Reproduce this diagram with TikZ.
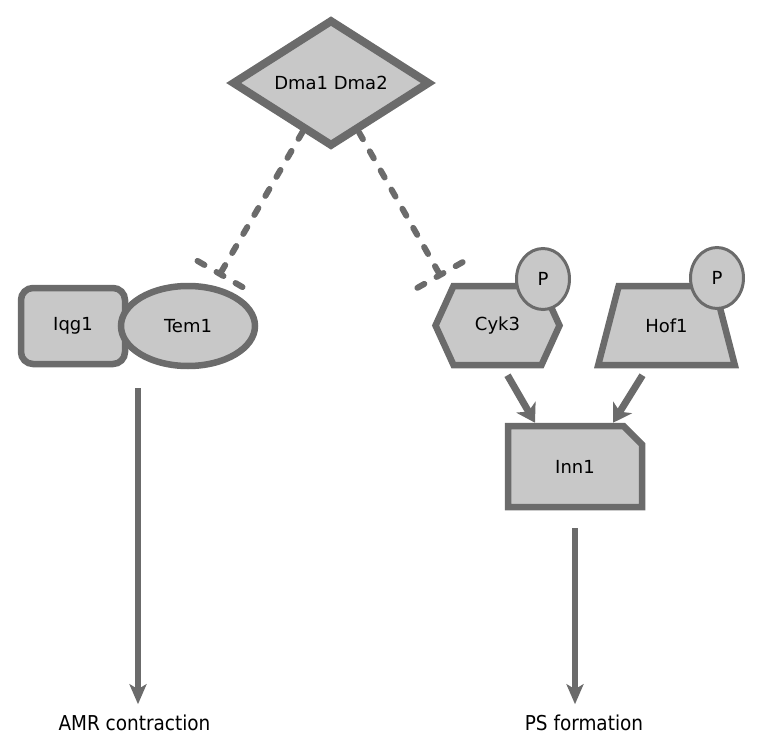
\documentclass[tikz,border=0pt]{standalone}
\usepackage{fontspec}
\setmainfont{DejaVu Sans}
\newfontfamily\condfont{DejaVu Sans Condensed}
\usepackage{tikz}
\usetikzlibrary{arrows.meta,calc,fit,shapes.geometric,shapes.misc,shapes.symbols}
\definecolor{edgegray}{HTML}{6B6B6B}
\definecolor{fillgray}{HTML}{C8C8C8}
\tikzset{
  entity/.style={draw=edgegray, fill=fillgray, line width=6.5pt, align=center,
    inner sep=0pt, font=\fontsize{18pt}{22pt}\selectfont},
  dmabox/.style={entity, diamond, line width=8pt, minimum width=198pt, minimum height=120pt},
  complexbox/.style={entity, rounded corners=12pt, minimum width=104pt, minimum height=76pt},
  ellipsebox/.style={entity, ellipse, minimum width=134pt, minimum height=80pt},
  hexbox/.style={entity, signal, signal to=east and west, signal pointer angle=131,
    minimum width=124pt, minimum height=79pt},
  trapbox/.style={entity, trapezium, trapezium left angle=57, trapezium right angle=57,
    trapezium stretches=true, minimum width=137pt, minimum height=79pt},
  cutbox/.style={entity, chamfered rectangle, chamfered rectangle corners=north east,
    chamfered rectangle xsep=12pt, chamfered rectangle ysep=12pt,
    minimum width=134pt, minimum height=81pt},
  pbox/.style={entity, ellipse, line width=3pt, minimum width=53pt, minimum height=61pt},
  outcome/.style={inner sep=0pt, font=\condfont\fontsize{20.5pt}{24pt}\selectfont},
  inhib/.style={draw=edgegray, line width=6pt, line cap=round, dash pattern=on 8pt off 14pt},
  act/.style={-{Stealth[length=18pt, width=22pt, inset=5pt]}, line width=7pt, draw=edgegray},
  outarr/.style={-{Stealth[length=20pt, width=17pt, inset=5pt]}, line width=5.5pt,
    draw=edgegray, shorten >=10pt}
}
\begin{document}
\begin{tikzpicture}[x=1pt,y=-1pt]
  \useasboundingbox (0,0) rectangle (766,749);
  \node[dmabox] (dma) at (331,83) {Dma1 Dma2};
  \node[complexbox] (iqg1) at (73,326) {Iqg1};
  \node[ellipsebox] (tem1) at (188,326) {Tem1};
  \node[fit=(iqg1)(tem1), inner sep=0pt] (cplx) {};
  \node[hexbox] (cyk3) at (497.5,325.5) {Cyk3};
  \node[pbox] (cykp) at (543,279) {P};
  \node[trapbox] (hof1) at (666.5,325.5) {Hof1};
  \node[pbox] (hofp) at (717,278) {P};
  \node[cutbox] (inn1) at (575,466.5) {Inn1};
  \node[outcome, anchor=base] (amr) at (134.5,730) {AMR contraction};
  \node[outcome, anchor=base] (psform) at (584,730) {PS formation};

  \coordinate (tembar) at (220,274);
  \coordinate (cykbar) at (440,275);
  \draw[inhib] (dma) -- (tembar);
  \draw[inhib] ($(tembar)!26pt!90:(dma)$) -- ($(tembar)!26pt!-90:(dma)$);
  \draw[inhib] (dma) -- (cykbar);
  \draw[inhib] ($(cykbar)!26pt!90:(dma)$) -- ($(cykbar)!26pt!-90:(dma)$);

  \draw[act] ([xshift=10pt,yshift=-7pt]cyk3.south) -- ([xshift=-40pt]inn1.north);
  \draw[act] ([xshift=-24pt,yshift=-7pt]hof1.south) -- ([xshift=38pt]inn1.north);
  \draw[outarr] ([yshift=-19pt]cplx.south) -- (cplx.south |- amr.north);
  \draw[outarr] ([yshift=-18pt]inn1.south) -- (inn1.south |- psform.north);
\end{tikzpicture}
\end{document}
